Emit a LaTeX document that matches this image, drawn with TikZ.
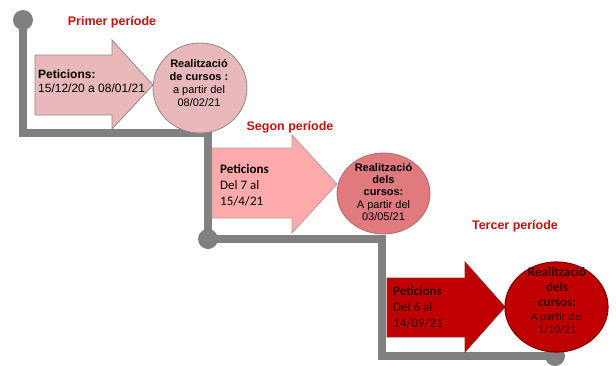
\documentclass[tikz,border=0pt]{standalone}
\usepackage{fontspec}
\setmainfont{Liberation Sans}
\newfontfamily\calibrifont{Carlito}
\usetikzlibrary{shapes.geometric}
\usetikzlibrary{backgrounds}
\definecolor{trackGray}{RGB}{128,128,128}
\definecolor{titleRed}{RGB}{200,16,16}
\definecolor{firstFill}{RGB}{232,184,186}
\definecolor{firstBorder}{RGB}{150,135,135}
\definecolor{secondFill}{RGB}{255,170,170}
\definecolor{secondBorder}{RGB}{175,160,165}
\definecolor{secondCircle}{RGB}{225,122,126}
\definecolor{secondCircleBorder}{RGB}{170,110,112}
\definecolor{thirdFill}{RGB}{192,0,0}
\definecolor{thirdBorder}{RGB}{150,40,40}
\definecolor{thirdCircleBorder}{RGB}{130,0,0}
\definecolor{thirdText}{RGB}{50,0,0}

\begin{document}
\begin{tikzpicture}[x=1pt, y=-1pt,
    track/.style={draw=trackGray, line width=8pt, line join=miter},
    dot/.style={circle, fill=trackGray, minimum size=20pt, inner sep=0},
    period/.style={text=titleRed, font=\fontsize{12.5}{14}\selectfont\bfseries},
    arrowbox/.style={line width=0.8pt, line join=miter},
    info/.style={anchor=west, align=left, inner sep=0},
    result/.style={ellipse, inner sep=0, line width=0.8pt},
    resulttext/.style={align=center, inner sep=0}
  ]
    \useasboundingbox (0,0) rectangle (616,365);
    \node[dot] (start) at (23,20) {};
    \node[dot] (mid) at (208,239) {};
    \node[dot] (finish) at (555,356) {};
    \coordinate (step1) at (208,133);
    \coordinate (step2) at (382,239);
    \begin{scope}[on background layer]
      \draw[track] (start.center) |- (step1) -- (mid.center) -- (step2) |- (finish.center);
    \end{scope}

    \node[period] (title1) at (112,22) {Primer període};
    \node[period] (title2) at (290,127) {Segon període};
    \node[period] (title3) at (515,226) {Tercer període};

    \draw[arrowbox, draw=firstBorder, fill=firstFill] (35,55) -- (112,55) -- (112,40) -- (153,85) -- (112,129) -- (112,115) -- (35,115) -- cycle;
    \node[info, font=\fontsize{12}{13.5}\selectfont] (ask1) at (38,81) {\textbf{Peticions:}\\15/12/20 a 08/01/21};
    \node[result, draw=firstBorder, fill=firstFill, minimum width=94pt, minimum height=90pt] (course1) at (200,88) {};
    \node[resulttext, font=\fontsize{11}{13.3}\selectfont] (course1txt) at (199,83) {\textbf{Realització}\\\textbf{de cursos :}\\a partir del\\08/02/21};

    \draw[arrowbox, draw=secondBorder, fill=secondFill] (212,148) -- (292,148) -- (292,135) -- (337,184) -- (292,233) -- (292,218) -- (212,218) -- cycle;
    \node[info, font=\calibrifont\fontsize{13}{16}\selectfont] (ask2) at (220,185) {\textbf{Peticions}\\Del 7 al\\15/4/21};
    \node[result, draw=secondCircleBorder, fill=secondCircle, minimum width=93pt, minimum height=81pt] (course2) at (383.5,193.5) {};
    \node[resulttext, font=\fontsize{11}{12.3}\selectfont] (course2txt) at (383.5,192) {\textbf{Realització}\\\textbf{dels}\\\textbf{cursos:}\\A partir del\\03/05/21};

    \draw[arrowbox, draw=thirdBorder, fill=thirdFill] (387,278) -- (465,278) -- (465,262) -- (505,307) -- (465,352) -- (465,337) -- (387,337) -- cycle;
    \node[info, text=thirdText, font=\calibrifont\fontsize{13}{16}\selectfont] (ask3) at (393,307) {\textbf{Peticions}\\Del 6 al\\14/09/21};
    \node[result, draw=thirdCircleBorder, line width=1.2pt, fill=thirdFill, minimum width=103pt, minimum height=90pt] (course3) at (556.5,307) {};
    \node[resulttext, text=thirdText, font=\calibrifont\fontsize{13}{15}\selectfont] (course3txt) at (557,301) {\textbf{Realització}\\\textbf{dels}\\\textbf{cursos:}\\[-1pt]{\fontsize{11.5}{13}\selectfont A partir del}\\[-2pt]{\fontsize{11.5}{13}\selectfont 1/10/21}};
\end{tikzpicture}
\end{document}
